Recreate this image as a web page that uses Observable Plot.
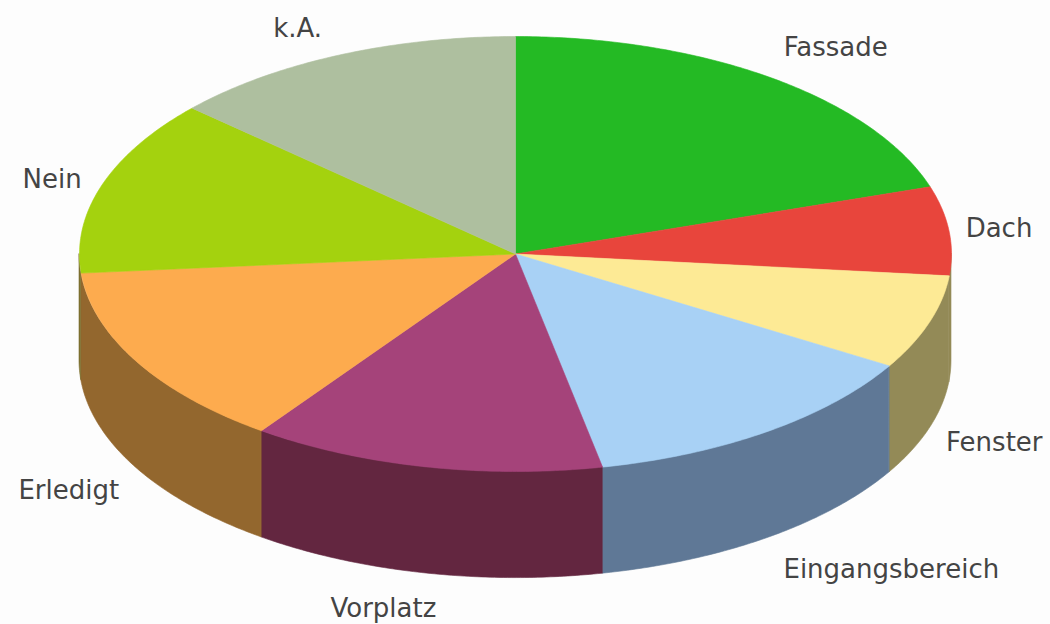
<!DOCTYPE html>
<html lang="de">
<head>
<meta charset="utf-8">
<title>Kreisdiagramm</title>
<script src="https://cdn.jsdelivr.net/npm/d3@7"></script>
<script src="https://cdn.jsdelivr.net/npm/@observablehq/plot@0.6"></script>
<style>
  html, body { margin: 0; background: #fdfdfd; }
  svg { display: block; }
</style>
</head>
<body>
<div id="chart"></div>
<script>
// Anteile je Kategorie, im Uhrzeigersinn ab zwölf Uhr
const categories = ["Fassade", "Dach", "Fenster", "Eingangsbereich", "Vorplatz", "Erledigt", "Nein", "k.A."];
const shares = [20.0, 6.6, 7.0, 13.2, 13.1, 13.7, 13.1, 13.3];
const topColors = ["#24ba24", "#e8453c", "#fdea95", "#a8d1f5", "#a5437a", "#fdab4e", "#a4d20e", "#aebf9f"];
const wallColors = ["#156e15", "#938a57", "#938a57", "#5f7896", "#632640", "#93672e", "#7d7030", "#68725f"];

// Verschiebung der Beschriftung gegenüber dem Randpunkt des Segments, in Pixeln
const labelShiftX = [64, 50, 65, 124, -41, -68, -50, -41];
const labelShiftY = [-30, -2, 120, 138, 142, 129, -5, -27];

const wallDepth = 0.49;
const total = d3.sum(shares);
const toAngle = (share) => (share / total) * 2 * Math.PI;

// Kumulierte Winkelgrenzen der Segmente
const ends = d3.cumsum(shares.map(toAngle));
const slices = categories.map((name, i) => ({
  name,
  start: i ? ends[i - 1] : 0,
  end: ends[i],
  top: topColors[i],
  wall: wallColors[i]
}));

const rim = (t) => ({ x: Math.sin(t), y: Math.cos(t) });
const arc = (a, b) => {
  const n = Math.max(2, Math.ceil((b - a) / 0.01));
  return d3.range(n + 1).map((k) => a + ((b - a) * k) / n);
};

// Deckfläche: Mittelpunkt plus Randbogen
const faces = slices.flatMap((s) => [
  { name: s.name, color: s.top, x: 0, y: 0 },
  ...arc(s.start, s.end).map((t) => ({ name: s.name, color: s.top, ...rim(t) })),
  { name: s.name, color: s.top, x: 0, y: 0 }
]);

// Seitenwand: nur der untere, sichtbare Halbkreis
const walls = slices.flatMap((s) => {
  const a = Math.max(s.start, Math.PI / 2);
  const b = Math.min(s.end, (3 * Math.PI) / 2);
  if (a >= b) return [];
  return arc(a, b).map((t) => {
    const p = rim(t);
    return { name: s.name, color: s.wall, x: p.x, y1: p.y, y2: p.y - wallDepth };
  });
});

const labels = slices.map((s, i) => {
  const p = rim((s.start + s.end) / 2);
  return { name: s.name, x: p.x, y: p.y, dx: labelShiftX[i], dy: labelShiftY[i] };
});

const chart = Plot.plot({
  width: 1050,
  height: 624,
  margin: 0,
  style: { background: "#fdfdfd" },
  x: { domain: [-1, 1], range: [79, 951], axis: null },
  y: { domain: [-1, 1], range: [471, 36], axis: null },
  color: { type: "identity" },
  marks: [
    Plot.area(walls, { x1: "x", y1: "y1", y2: "y2", z: "name", fill: "color", stroke: "color", strokeWidth: 0.6 }),
    Plot.line(faces, { x: "x", y: "y", z: "name", fill: "color", stroke: "color", strokeWidth: 0.6 }),
    ...labels.map((d) =>
      Plot.text([d], {
        x: "x",
        y: "y",
        text: "name",
        dx: d.dx,
        dy: d.dy,
        fontFamily: "DejaVu Sans",
        fontSize: 26,
        fill: "#444444"
      })
    )
  ]
});

document.getElementById("chart").append(chart);
</script>
</body>
</html>
